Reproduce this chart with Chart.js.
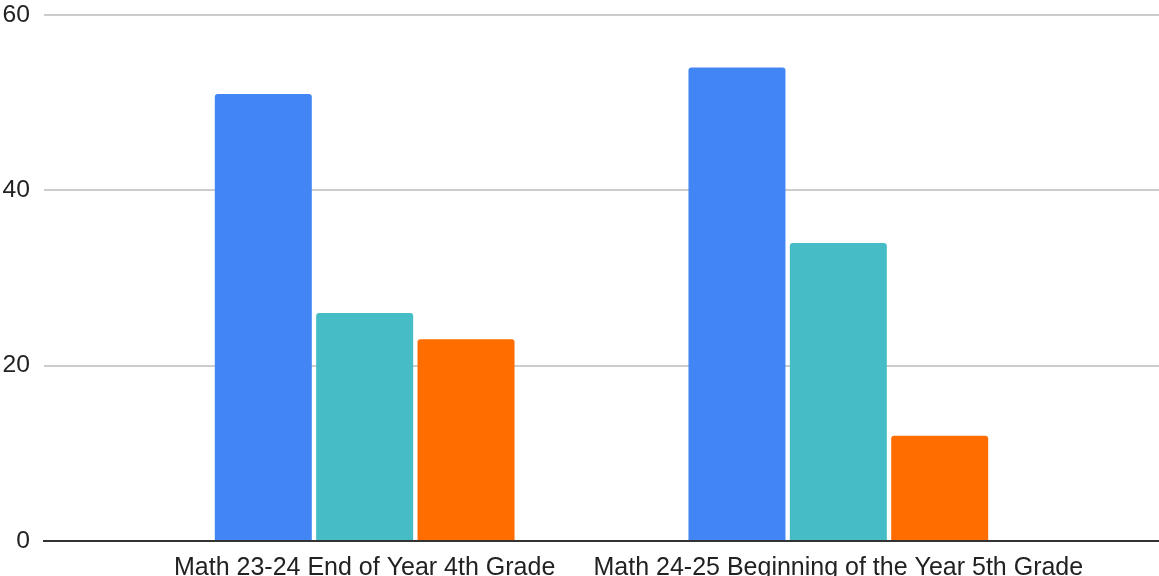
<!DOCTYPE html>
<html>
<head>
<meta charset="utf-8">
<script src="https://cdn.jsdelivr.net/npm/chart.js@4/dist/chart.umd.min.js"></script>
<style>
  html, body { margin: 0; padding: 0; background: #fff; }
  #wrap { width: 1159px; height: 576px; }
</style>
</head>
<body>
<div id="wrap"><canvas id="scoreChart"></canvas></div>
<script>
// categories and series
const categories = ['Math 23-24 End of Year 4th Grade', 'Math 24-25 Beginning of the Year 5th Grade'];
const seriesA = [51, 54];
const seriesB = [26, 34];
const seriesC = [23, 12];
const yTicks = [0, 20, 40, 60];

const colors = ['#4285f4', '#46bdc6', '#ff6d01'];

const toPoints = (arr) => arr.map((v, i) => ({ x: i, y: v }));

const mkSet = (data, color) => ({
  data: toPoints(data),
  backgroundColor: color,
  borderRadius: { topLeft: 3, topRight: 3 },
  borderSkipped: 'start',
  categoryPercentage: 0.642,
  barPercentage: 0.957
});

Chart.defaults.font.family = '"Liberation Sans", Arial, Helvetica, sans-serif';

new Chart(document.getElementById('scoreChart'), {
  type: 'bar',
  data: {
    datasets: [
      mkSet(seriesA, colors[0]),
      mkSet(seriesB, colors[1]),
      mkSet(seriesC, colors[2])
    ]
  },
  options: {
    responsive: true,
    maintainAspectRatio: false,
    animation: false,
    layout: { padding: { left: 3, top: 0, right: 0, bottom: 0 } },
    plugins: {
      legend: { display: false },
      tooltip: { enabled: false }
    },
    scales: {
      x: {
        type: 'linear',
        offset: false,
        bounds: 'data',
        min: -0.677,
        max: 1.677,
        afterBuildTicks: (scale) => {
          scale.ticks = categories.map((_, i) => ({ value: i }));
        },
        afterFit: (scale) => { scale.height = 35; },
        grid: { display: false, offset: false },
        border: { display: true, color: '#333', width: 2 },
        ticks: {
          autoSkip: false,
          maxRotation: 0,
          padding: 4,
          color: '#222',
          font: { size: 25 },
          callback: (v) => categories[v] ?? ''
        }
      },
      y: {
        min: 0,
        max: 60,
        afterBuildTicks: (scale) => {
          scale.ticks = yTicks.map(v => ({ value: v }));
        },
        afterFit: (scale) => {
          scale.width = 41;
          scale.paddingTop = 15;
          scale.paddingBottom = 0;
        },
        border: { display: false },
        grid: {
          color: (c) => c.tick && c.tick.value === 0 ? '#333' : '#cccccc',
          lineWidth: 2,
          drawTicks: false
        },
        ticks: {
          padding: 14,
          color: '#222',
          font: { size: 24.7 }
        }
      }
    }
  }
});
</script>
</body>
</html>
